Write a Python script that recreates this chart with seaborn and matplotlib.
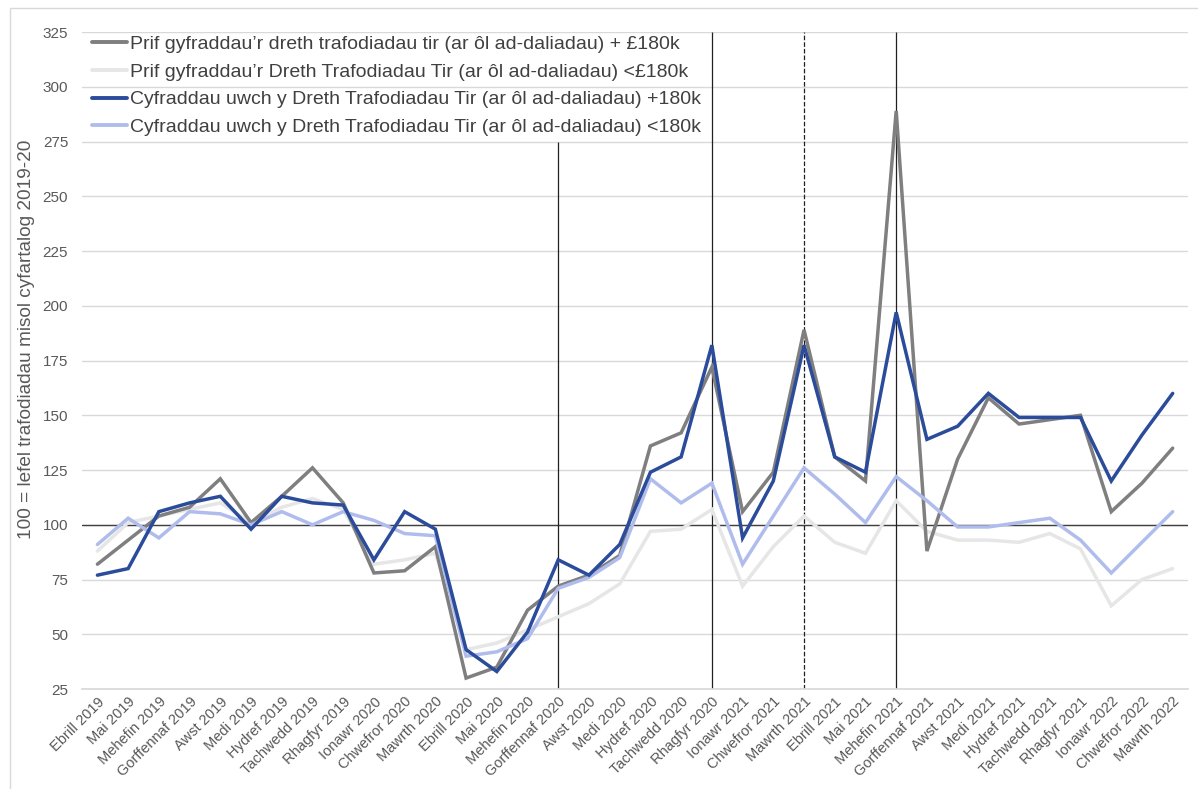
import pandas as pd
import matplotlib.pyplot as plt
import seaborn as sns
from matplotlib.patches import Rectangle

months = [
    "Ebrill 2019", "Mai 2019", "Mehefin 2019", "Gorffennaf 2019", "Awst 2019", "Medi 2019",
    "Hydref 2019", "Tachwedd 2019", "Rhagfyr 2019", "Ionawr 2020", "Chwefror 2020", "Mawrth 2020",
    "Ebrill 2020", "Mai 2020", "Mehefin 2020", "Gorffennaf 2020", "Awst 2020", "Medi 2020",
    "Hydref 2020", "Tachwedd 2020", "Rhagfyr 2020", "Ionawr 2021", "Chwefror 2021", "Mawrth 2021",
    "Ebrill 2021", "Mai 2021", "Mehefin 2021", "Gorffennaf 2021", "Awst 2021", "Medi 2021",
    "Hydref 2021", "Tachwedd 2021", "Rhagfyr 2021", "Ionawr 2022", "Chwefror 2022", "Mawrth 2022",
]

prif_over = [82, 93, 104, 108, 121, 101, 113, 126, 110, 78, 79, 90,
             30, 35, 61, 72, 77, 86, 136, 142, 172, 106, 124, 189,
             131, 120, 289, 88, 130, 158, 146, 148, 150, 106, 119, 135]
prif_under = [88, 101, 104, 107, 110, 101, 108, 112, 107, 82, 84, 87,
              43, 46, 52, 58, 64, 73, 97, 98, 107, 72, 90, 104,
              92, 87, 111, 97, 93, 93, 92, 96, 89, 63, 75, 80]
uwch_over = [77, 80, 106, 110, 113, 98, 113, 110, 109, 84, 106, 98,
             43, 33, 51, 84, 77, 91, 124, 131, 182, 94, 120, 182,
             131, 124, 197, 139, 145, 160, 149, 149, 149, 120, 141, 160]
uwch_under = [91, 103, 94, 106, 105, 100, 106, 100, 106, 102, 96, 95,
              40, 42, 48, 71, 76, 85, 121, 110, 119, 82, 104, 126,
              114, 101, 122, 111, 99, 99, 101, 103, 93, 78, 92, 106]

series_names = [
    "Prif gyfraddau\u2019r dreth trafodiadau tir (ar ôl ad-daliadau) + £180k",
    "Prif gyfraddau\u2019r Dreth Trafodiadau Tir (ar ôl ad-daliadau) <£180k",
    "Cyfraddau uwch y Dreth Trafodiadau Tir (ar ôl ad-daliadau) +180k",
    "Cyfraddau uwch y Dreth Trafodiadau Tir (ar ôl ad-daliadau) <180k",
]
series_colors = ["#7f7f7f", "#e6e6e6", "#2b4b9b", "#b0bdec"]

# months with vertical marker lines: (month, top value, style)
markers = [("Gorffennaf 2020", 275, "-"), ("Rhagfyr 2020", 325, "-"),
           ("Mawrth 2021", 325, "--"), ("Mehefin 2021", 325, "-")]

rows = []
for name, vals in zip(series_names, [prif_over, prif_under, uwch_over, uwch_under]):
    for i, v in enumerate(vals):
        rows.append({"idx": i, "value": v, "series": name})
df = pd.DataFrame(rows)

sns.set_theme(style="white")
plt.rcParams["font.family"] = ["Liberation Sans", "DejaVu Sans"]

fig = plt.figure(figsize=(11.98, 7.89), dpi=100)
ax = fig.add_axes([0.0685, 0.1267, 0.9232, 0.8327])

sns.lineplot(data=df, x="idx", y="value", hue="series", hue_order=series_names,
             palette=series_colors, linewidth=2.5, ax=ax, legend=True)

zorders = [3, 2, 5, 4]
for line, z in zip(ax.lines[:4], zorders):
    line.set_zorder(z)
    line.set_solid_joinstyle("miter")

ax.set_xlim(-0.5, len(months) - 0.5)
ax.set_ylim(25, 325)
ax.set_yticks(range(25, 326, 25))
ax.yaxis.grid(True, color="#d9d9d9", linewidth=1)
ax.set_axisbelow(True)
ax.axhline(100, color="#404040", linewidth=1, zorder=1.5)

for m, top, ls in markers:
    ax.vlines(months.index(m), 25, top, colors="#202020", linewidth=0.9,
              linestyles=ls, zorder=1.6)

ax.set_xticks(range(len(months)))
ax.set_xticklabels(months, rotation=45, ha="right", rotation_mode="anchor",
                   fontsize=10.5, color="#595959")
ax.tick_params(axis="y", labelsize=11, labelcolor="#595959", length=0, pad=10)
ax.tick_params(axis="x", length=0, pad=4)

for s in ["top", "right", "left"]:
    ax.spines[s].set_visible(False)
ax.spines["bottom"].set_color("#d9d9d9")

ax.set_xlabel("")
ax.set_ylabel("100 = lefel trafodiadau misol cyfartalog 2019-20",
              fontsize=13.7, color="#595959")
ax.yaxis.set_label_coords(-0.0425, 0.533)

handles, labels = ax.get_legend_handles_labels()
leg = ax.legend(handles, labels, loc="upper left", bbox_to_anchor=(0.009, 0.995),
                frameon=False, fontsize=14, handlelength=1.8, handletextpad=0.15,
                labelspacing=0.52, borderpad=0, borderaxespad=0, labelcolor="#404040")
for h in leg.legend_handles:
    h.set_linewidth(2.8)

fig.patches.append(Rectangle((10 / 1198, -0.1), 1.2, 1.1 - 8 / 789, transform=fig.transFigure,
                             fill=False, edgecolor="#d9d9d9", linewidth=1))

fig.savefig("out.png", dpi=100)
